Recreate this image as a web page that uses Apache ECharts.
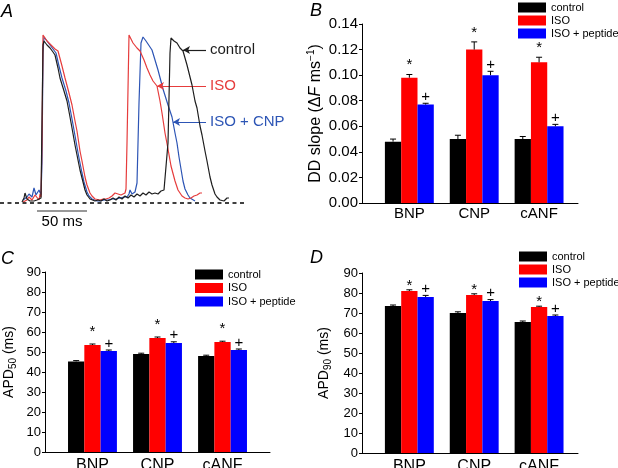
<!DOCTYPE html>
<html>
<head>
<meta charset="utf-8">
<script src="https://cdn.jsdelivr.net/npm/echarts@6/dist/echarts.min.js"></script>
<style>html,body{margin:0;padding:0;background:#fff;}#c{width:618px;height:468px;}</style>
</head>
<body>
<div id="c"></div>
<script>
// ---------- DATA ----------
const categories = ['BNP', 'CNP', 'cANF'];
const seriesNames = ['control', 'ISO', 'ISO + peptide'];

// Panel B: DD slope (ΔF ms^-1)
const ddControl = [0.048, 0.050, 0.050];
const ddISO = [0.098, 0.120, 0.110];
const ddPeptide = [0.077, 0.100, 0.060];
const ddControlErr = [0.002, 0.003, 0.002];
const ddISOErr = [0.0025, 0.006, 0.004];
const ddPeptideErr = [0.001, 0.003, 0.0015];
const ddTicks = [0, 0.14, 0.02];

// Panel C: APD50 (ms)
const apd50Control = [45.3, 49.0, 48.0];
const apd50ISO = [53.5, 57.0, 55.0];
const apd50Peptide = [50.5, 54.5, 51.0];
const apd50ControlErr = [0.4, 0.4, 0.4];
const apd50ISOErr = [0.5, 0.5, 0.4];
const apd50PeptideErr = [0.5, 0.6, 0.5];

// Panel D: APD90 (ms)
const apd90Control = [73.5, 70.0, 65.5];
const apd90ISO = [81.0, 79.0, 73.0];
const apd90Peptide = [78.0, 76.0, 68.5];
const apd90ControlErr = [0.5, 0.6, 0.5];
const apd90ISOErr = [0.6, 0.6, 0.4];
const apd90PeptideErr = [0.8, 0.7, 0.5];
const apdTicks = [0, 90, 10];

// significance marks
const controlMarks = ['', '', ''];
const isoMarks = ['*', '*', '*'];
const peptideMarks = ['+', '+', '+'];

// Panel A: optical action potentials, [time (ms), fluorescence (a.u.)]
const controlTrace = [[22,1],[24,5],[25,10],[27,4],[28,3],[30,2],[32,4],[34,2],[35,1],[37,3],[39,3],[41,5],[42,6],[43,158],[44,162],[47,158],[50,155],[53,151],[55,148],[58,135],[60,125],[64,112],[67,102],[70,86],[72,75],[75,58],[77,48],[80,33],[82,25],[85,13],[87,8],[90,4],[92,3],[95,2],[98,3],[101,2],[104,4],[107,2],[110,3],[113,5],[116,3],[119,6],[122,4],[125,7],[128,5],[131,8],[134,6],[137,9],[140,7],[143,10],[146,8],[149,11],[152,9],[155,10],[158,9],[161,12],[164,13],[166,14],[168,60],[170,150],[171,165],[174,162],[177,160],[180,155],[183,152],[187,138],[190,126],[192,118],[195,102],[197,95],[200,77],[202,68],[205,52],[207,42],[210,26],[212,18],[215,9],[217,6],[220,3],[222,1],[224,2],[227,5],[229,5]];
const isoTrace = [[23,1],[25,2],[27,3],[29,6],[30,5],[32,3],[33,4],[35,8],[37,6],[39,3],[40,9],[41,6],[42,60],[43,168],[47,162],[50,159],[52,157],[55,154],[58,152],[62,137],[65,125],[69,110],[72,98],[75,82],[77,72],[80,52],[82,42],[85,26],[87,18],[90,10],[92,7],[95,4],[97,3],[100,3],[103,4],[106,4],[109,5],[112,7],[115,10],[118,9],[121,8],[123,9],[125,10],[126,14],[127,60],[129,168],[133,160],[137,155],[140,152],[144,143],[147,135],[150,128],[153,122],[157,117],[160,102],[162,90],[165,70],[168,54],[171,37],[175,22],[178,13],[182,7],[185,5],[188,4],[191,5],[194,7],[197,8],[200,10],[202,10]];
const isoCnpTrace = [[23,3],[25,4],[27,6],[29,9],[30,11],[32,6],[34,15],[36,8],[37,6],[39,13],[41,8],[42,40],[43,150],[44,166],[47,162],[50,158],[53,154],[56,150],[59,137],[62,125],[66,112],[69,100],[72,84],[74,73],[77,56],[79,45],[82,30],[84,21],[87,11],[89,7],[92,4],[94,3],[97,2],[100,2],[104,3],[108,3],[112,4],[116,4],[120,5],[124,6],[127,6],[129,9],[130,13],[132,9],[133,8],[135,11],[136,11],[137,20],[139,100],[141,160],[143,166],[146,162],[148,160],[152,153],[155,143],[158,133],[163,114],[168,98],[172,86],[175,70],[177,60],[179,46],[181,34],[183,22],[185,14],[188,8],[190,5],[192,3],[195,2]];
const traceLabels = ['control', 'ISO', 'ISO + CNP'];
const scaleBarMs = 50;

// ---------- STYLE ----------
const FF = '"Liberation Sans", Arial, Helvetica, sans-serif';
const barColors = ['#000000', '#ff0000', '#0000ff'];
const traceColors = ['#1e1e1e', '#e63c3c', '#2d55b5'];
const BW = 16.3;

const chart = echarts.init(document.getElementById('c'), null, {renderer: 'canvas'});

function makeErrRender(marks, starShift) {
  return function (params, api) {
    const x = api.value(0), v = api.value(1), e = api.value(2), k = api.value(3);
    const b = api.coord([x, v]);
    const t = api.coord([x, v + e]);
    const cx = b[0] + (k - 1) * BW;
    const m = marks[k][x];
    const children = [
      {type: 'line', shape: {x1: cx, y1: b[1], x2: cx, y2: t[1]}, style: {stroke: '#000', lineWidth: 1}},
      {type: 'line', shape: {x1: cx - 3, y1: t[1], x2: cx + 3, y2: t[1]}, style: {stroke: '#000', lineWidth: 1}},
      {type: 'text', style: {text: m, x: cx, y: t[1] + (m === '*' ? starShift : 1), align: 'center', verticalAlign: 'bottom', fontSize: 15, fontFamily: FF, fill: '#000'}}
    ];
    return {type: 'group', children};
  };
}

function panelSeries(gi, vals, errs, starShift) {
  const out = [];
  const marks = [controlMarks, isoMarks, peptideMarks];
  vals.forEach((arr, k) => {
    out.push({
      type: 'bar', name: seriesNames[k], xAxisIndex: gi, yAxisIndex: gi,
      data: arr.map((v, i) => [i, v]), barWidth: BW, barGap: '0%',
      itemStyle: {color: barColors[k]}, silent: true, z: 2
    });
  });
  const errData = [];
  vals.forEach((arr, k) => arr.forEach((v, i) => errData.push([i, v, errs[k][i], k])));
  out.push({
    type: 'custom', name: 'errors' + gi, xAxisIndex: gi, yAxisIndex: gi,
    dimensions: ['x', 'y', 'err', 'group'], encode: {x: 0, y: 1},
    data: errData, clip: false,
    renderItem: makeErrRender(marks, starShift),
    silent: true, z: 4
  });
  return out;
}

function barX(gi, min, max, margin, fs) {
  return {
    type: 'value', gridIndex: gi, min, max,
    splitLine: {show: false},
    axisLine: {show: true, onZero: false, lineStyle: {color: '#000', width: 1}},
    axisTick: {show: false},
    axisLabel: {customValues: categories.map((c, i) => i), formatter: v => categories[Math.round(v)] || '',
      color: '#000', fontSize: fs, fontFamily: FF, margin}
  };
}
function barY(gi, ticks, name, gap, fs, fmt) {
  return {
    type: 'value', gridIndex: gi, min: ticks[0], max: ticks[1], interval: ticks[2],
    splitLine: {show: false},
    axisLine: {show: true, onZero: false, lineStyle: {color: '#000', width: 1}},
    axisTick: {show: true, length: 3, lineStyle: {color: '#000'}},
    axisLabel: {color: '#000', fontSize: fs, fontFamily: FF, margin: 4, formatter: fmt},
    name, nameLocation: 'middle', nameRotate: 90, nameGap: gap, nameMoveOverlap: false,
    nameTextStyle: {color: '#000', fontFamily: FF,
      rich: {
        a: {fontSize: 14, fontFamily: FF, color: '#000', lineHeight: 18},
        b: {fontSize: 16, fontFamily: FF, color: '#000', lineHeight: 20},
        i: {fontSize: 16, fontFamily: FF, color: '#000', fontStyle: 'italic', lineHeight: 20},
        sup: {fontSize: 10, fontFamily: FF, color: '#000', verticalAlign: 'top', lineHeight: 10},
        sub: {fontSize: 10, fontFamily: FF, color: '#000', verticalAlign: 'bottom', lineHeight: 10}
      }}
  };
}

function legendAt(left, top, gap) {
  return {
    data: seriesNames, orient: 'vertical', left, top, padding: 0,
    itemWidth: 28, itemHeight: 10, itemGap: gap, icon: 'rect', selectedMode: false,
    textStyle: {fontSize: 11, fontFamily: FF, color: '#000', lineHeight: 11}
  };
}

const letterStyle = {fontStyle: 'italic', fontWeight: 'normal', fontSize: 18, color: '#000', fontFamily: FF};

const series = [];
// Panel A traces
const traces = [controlTrace, isoTrace, isoCnpTrace];
const arrowY = [153, 117, 81];
const arrowX = [183, 157, 173];
traces.forEach((tr, k) => {
  series.push({
    type: 'line', name: 'trace: ' + traceLabels[k], xAxisIndex: 0, yAxisIndex: 0, data: tr,
    showSymbol: false, silent: true, itemStyle: {color: traceColors[k]},
    lineStyle: {color: traceColors[k], width: 1.2}, z: 5 - k,
    markLine: {
      silent: true, animation: false,
      lineStyle: {color: traceColors[k], width: 1.2, type: 'solid'},
      label: {show: true, position: 'start', formatter: traceLabels[k], color: traceColors[k], fontSize: 15, fontFamily: FF, distance: 4},
      data: [[{coord: [206, arrowY[k]], symbol: 'none'}, {coord: [arrowX[k], arrowY[k]], symbol: 'arrow', symbolSize: [6, 7]}]]
    }
  });
});
// baseline
series.push({
  type: 'line', name: 'baseline', xAxisIndex: 0, yAxisIndex: 0, data: [], silent: true,
  markLine: {silent: true, animation: false, symbol: 'none', label: {show: false},
    lineStyle: {color: '#000', width: 1.5, type: [4, 3.5]}, data: [{yAxis: 0}]}
});
// scale bar
series.push({
  type: 'line', name: 'scale', xAxisIndex: 0, yAxisIndex: 0, showSymbol: false, silent: true,
  data: [[37, -8], [37 + scaleBarMs, -8]], lineStyle: {color: '#333', width: 1.2},
  markPoint: {
    silent: true, symbol: 'rect', symbolSize: 1, itemStyle: {color: 'rgba(0,0,0,0)'},
    label: {show: true, position: 'bottom', distance: 3, formatter: scaleBarMs + ' ms', color: '#000', fontSize: 15, fontFamily: FF},
    data: [{coord: [37 + scaleBarMs / 2, -8]}]
  }
});

series.push(...panelSeries(1, [ddControl, ddISO, ddPeptide], [ddControlErr, ddISOErr, ddPeptideErr], -2));
series.push(...panelSeries(2, [apd50Control, apd50ISO, apd50Peptide], [apd50ControlErr, apd50ISOErr, apd50PeptideErr], -4.5));
series.push(...panelSeries(3, [apd90Control, apd90ISO, apd90Peptide], [apd90ControlErr, apd90ISOErr, apd90PeptideErr], 3.5));

const option = {
  animation: false,
  backgroundColor: '#fff',
  title: [
    {text: 'A', left: 1, top: 3, padding: 0, textStyle: letterStyle},
    {text: 'B', left: 310, top: 2, padding: 0, textStyle: letterStyle},
    {text: 'C', left: 1, top: 250, padding: 0, textStyle: letterStyle},
    {text: 'D', left: 310, top: 249, padding: 0, textStyle: letterStyle}
  ],
  legend: [legendAt(518, 2, 2), legendAt(195, 269, 2.5), legendAt(519, 251, 2)],
  grid: [
    {left: 0, top: 33, width: 245, height: 205, outerBoundsMode: 'none'},
    {left: 362, top: 24, width: 216, height: 179, outerBoundsMode: 'none'},
    {left: 45, top: 272, width: 225, height: 180, outerBoundsMode: 'none'},
    {left: 362, top: 273, width: 216, height: 180, outerBoundsMode: 'none'}
  ],
  xAxis: [
    {type: 'value', gridIndex: 0, min: 0, max: 245, show: false},
    barX(1, -0.73, 2.6, 3, 15),
    barX(2, -0.73, 2.73, 6, 16),
    barX(3, -0.73, 2.6, 6, 16)
  ],
  yAxis: [
    {type: 'value', gridIndex: 0, min: -35, max: 170, show: false},
    barY(1, ddTicks, '{b|DD slope (Δ}{i|F}{b| ms}{sup|−1}{b|)}', 36, 15, v => v.toFixed(2)),
    barY(2, apdTicks, '{a|APD}{sub|50}{a| (ms)}', 27, 13, v => v),
    barY(3, apdTicks, '{a|APD}{sub|90}{a| (ms)}', 29, 13, v => v)
  ],
  series
};
chart.setOption(option);
</script>
</body>
</html>
